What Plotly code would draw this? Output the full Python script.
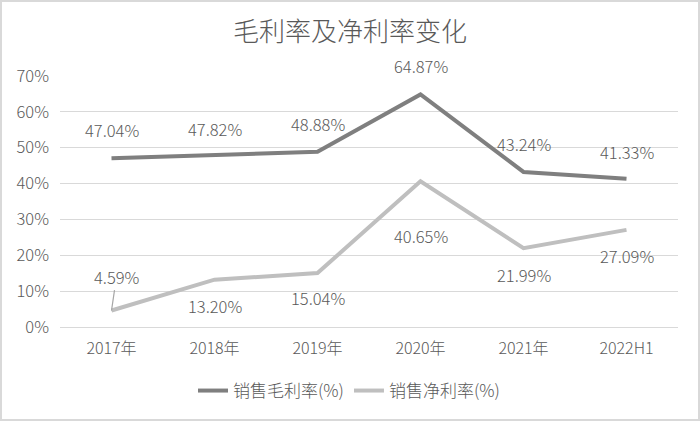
import plotly.graph_objects as go

categories = ["2017年", "2018年", "2019年", "2020年", "2021年", "2022H1"]
gross_margin = [47.04, 47.82, 48.88, 64.87, 43.24, 41.33]
net_margin = [4.59, 13.20, 15.04, 40.65, 21.99, 27.09]
y_ticks = [0, 10, 20, 30, 40, 50, 60, 70]
y_tick_labels = [f"{v}%" for v in y_ticks]

FONT = "Noto Sans CJK SC"
TXT = "#595959"
W, H = 700, 421
L, R, T, B = 60, 22, 76, 94

fig = go.Figure()
fig.add_trace(go.Scatter(x=categories, y=gross_margin, mode="lines", name="销售毛利率(%)",
                         line=dict(color="#7f7f7f", width=4)))
fig.add_trace(go.Scatter(x=categories, y=net_margin, mode="lines", name="销售净利率(%)",
                         line=dict(color="#bfbfbf", width=4)))

gross_off = [-28, -27, -28, -28, -28, -27]
net_off = [-34, 26, 25, 55, 27, 26]
net_xoff = [5, 0, 0, 0, 0, 0]
lbl_font = dict(family=FONT, size=16.5, color=TXT, weight=300)
anns = []
for c, v, o in zip(categories, gross_margin, gross_off):
    anns.append(dict(x=c, y=v, text=f"{v:.2f}%", showarrow=False, yshift=-o, font=lbl_font))
for i, (c, v, o) in enumerate(zip(categories, net_margin, net_off)):
    if i == 0:
        anns.append(dict(x=c, y=v, text=f"{v:.2f}%", showarrow=True, arrowhead=0,
                         arrowwidth=1.2, arrowcolor="#a6a6a6", ax=net_xoff[i], ay=o, standoff=0,
                         font=lbl_font))
    else:
        anns.append(dict(x=c, y=v, text=f"{v:.2f}%", showarrow=False, yshift=-o,
                         xshift=net_xoff[i], font=lbl_font))

pw = W - L - R
ph = H - T - B
x0 = (1 - L) / pw
x1 = (W - 1 - L) / pw
y0 = -(H - 1 - T - ph) / ph
y1 = 1 + (T - 1) / ph

fig.update_layout(
    width=W, height=H,
    margin=dict(l=L, r=R, t=T, b=B),
    paper_bgcolor="white", plot_bgcolor="white",
    title=dict(text="毛利率及净利率变化", x=0.5, xanchor="center", y=1 - 32 / H, yanchor="middle",
               font=dict(family=FONT, size=26, color=TXT, weight=300)),
    font=dict(family=FONT, color=TXT, weight=300),
    xaxis=dict(range=[-0.5, 5.5], showgrid=False, showline=False, ticks="",
               tickfont=dict(family=FONT, size=16, color=TXT, weight=300),
               ticklabelstandoff=10, fixedrange=True),
    yaxis=dict(range=[0, 70], tickvals=y_ticks, ticktext=y_tick_labels, showgrid=True,
               gridcolor="#d9d9d9", gridwidth=1.3, zeroline=True, zerolinecolor="#d9d9d9",
               zerolinewidth=1.3, showline=False, fixedrange=True,
               tickfont=dict(family=FONT, size=16.5, color=TXT, weight=300), ticklabelstandoff=10),
    legend=dict(orientation="h", x=(349 - L) / pw, xanchor="center", y=-(391 - T - ph) / ph,
                yanchor="middle", font=dict(family=FONT, size=17, color=TXT, weight=300),
                tracegroupgap=0),
    annotations=anns,
    shapes=[dict(type="rect", xref="paper", yref="paper", x0=x0, x1=x1, y0=y0, y1=y1,
                 line=dict(color="#d9d9d9", width=2), layer="below")],
)

fig.write_html("out.html", config={"displayModeBar": False},
               post_script="document.body.style.margin='0';")
